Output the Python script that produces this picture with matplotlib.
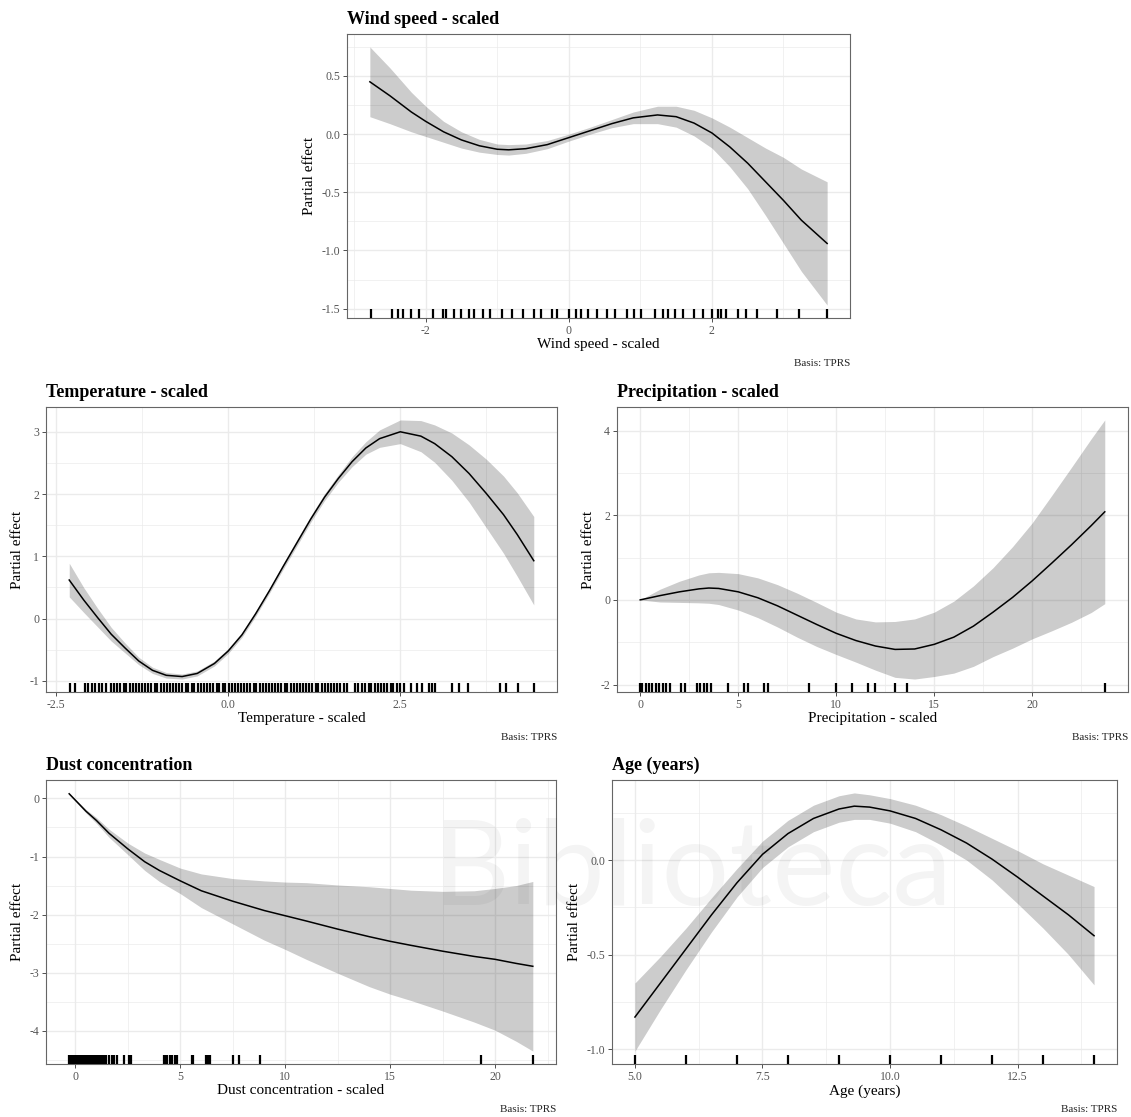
import matplotlib
matplotlib.use('Agg')
import matplotlib.pyplot as plt
from matplotlib.ticker import FixedLocator, MultipleLocator
import numpy as np

plt.rcParams['font.family'] = ['Liberation Serif', 'DejaVu Serif']
plt.rcParams['axes.unicode_minus'] = False

W, H = 1131, 1117

# --- wind speed (scaled) ---
wind_x = [-2.78, -2.5, -2.2, -2.0, -1.75, -1.5, -1.25, -1.0, -0.84, -0.6, -0.3, 0.0,
          0.3, 0.6, 0.9, 1.24, 1.5, 1.75, 2.0, 2.25, 2.5, 2.75, 3.0, 3.25, 3.61]
wind_fit = [0.45, 0.33, 0.19, 0.11, 0.02, -0.05, -0.10, -0.13, -0.135, -0.125, -0.09, -0.03,
            0.03, 0.09, 0.14, 0.165, 0.15, 0.095, 0.01, -0.11, -0.25, -0.41, -0.57, -0.74, -0.94]
wind_ci = [0.30, 0.24, 0.17, 0.13, 0.09, 0.07, 0.055, 0.045, 0.045, 0.04, 0.035, 0.03,
           0.03, 0.035, 0.05, 0.075, 0.09, 0.11, 0.13, 0.17, 0.22, 0.29, 0.37, 0.44, 0.53]
wind_rug = [-2.77, -2.47, -2.39, -2.31, -2.21, -2.09, -1.90, -1.76, -1.71, -1.60, -1.50,
            -1.40, -1.32, -1.20, -1.10, -0.94, -0.79, -0.64, -0.49, -0.39, -0.23, -0.16,
            0.0, 0.10, 0.17, 0.27, 0.40, 0.53, 0.65, 0.81, 0.91, 1.01, 1.21, 1.31, 1.39,
            1.49, 1.59, 1.75, 1.87, 2.0, 2.08, 2.13, 2.20, 2.36, 2.48, 2.63, 2.91, 3.22, 3.61]

# --- temperature (scaled) ---
temp_x = [-2.31, -2.1, -1.9, -1.7, -1.5, -1.3, -1.1, -0.9, -0.67, -0.45, -0.2, 0.0, 0.2,
          0.4, 0.6, 0.8, 1.0, 1.2, 1.4, 1.6, 1.8, 2.0, 2.2, 2.5, 2.8, 3.0, 3.25, 3.5,
          3.75, 4.0, 4.2, 4.44]
temp_fit = [0.62, 0.30, 0.02, -0.25, -0.47, -0.68, -0.83, -0.91, -0.93, -0.88, -0.72, -0.52,
            -0.26, 0.08, 0.45, 0.84, 1.22, 1.60, 1.95, 2.25, 2.52, 2.74, 2.89, 3.00, 2.93,
            2.81, 2.60, 2.33, 2.01, 1.67, 1.35, 0.93]
temp_ci = [0.27, 0.20, 0.15, 0.11, 0.08, 0.06, 0.05, 0.045, 0.04, 0.04, 0.04, 0.04, 0.04,
           0.04, 0.04, 0.045, 0.05, 0.05, 0.055, 0.06, 0.08, 0.10, 0.14, 0.19, 0.25, 0.30,
           0.38, 0.46, 0.55, 0.62, 0.67, 0.71]
temp_rug = [-2.30, -2.23,
            -2.08, -2.03, -1.98, -1.93, -1.88, -1.83, -1.78,
            -1.70, -1.66, -1.61, -1.57, -1.52, -1.48, -1.43, -1.39, -1.34, -1.30, -1.25,
            -1.21, -1.16, -1.12, -1.07, -1.03, -0.98, -0.94, -0.89, -0.85, -0.80, -0.76,
            -0.71, -0.67, -0.62, -0.58, -0.53, -0.49, -0.44, -0.40, -0.35, -0.31, -0.26,
            -0.22, -0.17, -0.13, -0.08, -0.04, 0.01, 0.05, 0.10, 0.14, 0.19, 0.23, 0.28,
            0.32, 0.37, 0.41, 0.46, 0.50, 0.55, 0.59, 0.64, 0.68, 0.73, 0.77, 0.82, 0.86,
            0.91, 0.95, 1.00, 1.04, 1.09, 1.13, 1.18, 1.22, 1.27, 1.31, 1.36, 1.40, 1.45,
            1.49, 1.54, 1.58, 1.63, 1.68, 1.73,
            1.84, 1.89, 1.94,
            1.99, 2.04, 2.08, 2.13, 2.17, 2.22, 2.27, 2.31, 2.36, 2.40, 2.45, 2.50, 2.55,
            2.65, 2.75, 2.81, 2.92, 2.96, 3.00, 3.25, 3.35, 3.48, 3.95, 4.03, 4.21, 4.44]

# --- precipitation (scaled) ---
prec_x = [0, 1, 2, 3, 3.5, 4, 5, 6, 7, 8, 9, 10, 11, 12, 13, 14, 15, 16, 17, 18, 19,
          20, 21, 22, 23, 23.7]
prec_fit = [0.0, 0.10, 0.19, 0.26, 0.28, 0.27, 0.19, 0.05, -0.14, -0.36, -0.58, -0.79,
            -0.96, -1.09, -1.17, -1.16, -1.05, -0.88, -0.62, -0.29, 0.06, 0.45, 0.87,
            1.30, 1.75, 2.08]
prec_ci = [0.0, 0.15, 0.25, 0.33, 0.36, 0.38, 0.43, 0.47, 0.50, 0.52, 0.52, 0.50, 0.51,
           0.57, 0.66, 0.71, 0.76, 0.85, 0.95, 1.05, 1.20, 1.37, 1.60, 1.83, 2.05, 2.17]
prec_rug = [0.0, 0.1, 0.3, 0.45, 0.6, 0.8, 0.95, 1.15, 1.3, 1.5, 2.1, 2.3, 2.9, 3.05,
            3.25, 3.4, 3.6, 4.5, 5.3, 5.5, 6.3, 6.5, 8.6, 10.0, 10.8, 11.6, 12.0, 13.0,
            13.6, 23.7]

# --- dust concentration (scaled) ---
dust_x = [-0.3, 0.5, 1.0, 1.6, 2.5, 3.3, 4.0, 5.0, 6.0, 7.5, 9.0, 10.0, 11.0, 12.5,
          14.0, 15.0, 16.0, 17.5, 19.0, 20.0, 21.0, 21.8]
dust_fit = [0.08, -0.22, -0.38, -0.60, -0.87, -1.09, -1.24, -1.42, -1.59, -1.77, -1.93,
            -2.02, -2.11, -2.25, -2.38, -2.46, -2.53, -2.63, -2.72, -2.77, -2.84, -2.89]
dust_ci = [0.015, 0.03, 0.05, 0.07, 0.10, 0.15, 0.19, 0.22, 0.29, 0.39, 0.51, 0.58,
           0.66, 0.76, 0.86, 0.91, 0.95, 1.03, 1.13, 1.22, 1.34, 1.46]
dust_rug = [-0.30, -0.25, -0.21, -0.16, -0.12, -0.07, -0.03, 0.02, 0.06, 0.11, 0.15,
            0.20, 0.24, 0.29, 0.33, 0.38, 0.42, 0.47, 0.51, 0.56, 0.60, 0.65, 0.69, 0.74,
            0.78, 0.83, 0.87, 0.92, 0.96, 1.01, 1.05, 1.10, 1.14, 1.19, 1.23, 1.28, 1.32,
            1.37, 1.41, 1.46,
            1.6, 1.72, 1.85, 2.0, 2.3, 2.55, 2.65, 4.2, 4.28, 4.36, 4.5, 4.62, 4.75,
            4.85, 5.55, 5.62, 6.2, 6.28, 6.36, 6.42, 7.5, 7.8, 8.8, 19.35, 21.8]

# --- age (years) ---
age_x = [5, 5.5, 6, 6.5, 7, 7.5, 8, 8.5, 9, 9.3, 9.6, 10, 10.5, 11, 11.5, 12, 12.5,
         13, 13.5, 14]
age_fit = [-0.83, -0.65, -0.47, -0.29, -0.12, 0.03, 0.14, 0.22, 0.27, 0.285, 0.28, 0.26,
           0.22, 0.16, 0.09, 0.005, -0.09, -0.19, -0.29, -0.40]
age_ci = [0.18, 0.14, 0.11, 0.09, 0.075, 0.07, 0.07, 0.07, 0.07, 0.07, 0.065, 0.065,
          0.07, 0.08, 0.09, 0.11, 0.14, 0.17, 0.21, 0.26]
age_rug = [5, 6, 7, 8, 9, 10, 11, 12, 13, 14]


def rect_px(left, top, right, bottom):
    return [left / W, 1 - bottom / H, (right - left) / W, (bottom - top) / H]


def smooth_panel(ax, x, fit, ci, rug, name, xticks, xlabels, yticks, ylabels,
                 xminor, yminor):
    x = np.asarray(x)
    fit = np.asarray(fit)
    ci = np.asarray(ci)
    lo, hi = fit - ci, fit + ci

    # ggplot-style 5% expansion of the data range
    xmin, xmax = min(x.min(), min(rug)), max(x.max(), max(rug))
    dx = (xmax - xmin) * 0.05
    ymin, ymax = lo.min(), hi.max()
    dy = (ymax - ymin) * 0.05
    ax.set_xlim(xmin - dx, xmax + dx)
    ax.set_ylim(ymin - dy, ymax + dy)

    ax.fill_between(x, lo, hi, color='black', alpha=0.2, lw=0, zorder=2)
    ax.plot(x, fit, color='black', lw=1.1, zorder=3, solid_joinstyle='round')
    ax.vlines(rug, 0, 0.03, transform=ax.get_xaxis_transform(),
              color='black', lw=1.6, zorder=4)

    ax.xaxis.set_major_locator(FixedLocator(xticks))
    ax.set_xticklabels(xlabels)
    ax.yaxis.set_major_locator(FixedLocator(yticks))
    ax.set_yticklabels(ylabels)
    ax.xaxis.set_minor_locator(MultipleLocator(xminor))
    ax.yaxis.set_minor_locator(MultipleLocator(yminor))
    ax.grid(which='major', color='#EBEBEB', lw=1.0, zorder=0)
    ax.grid(which='minor', color='#EBEBEB', lw=0.5, zorder=0)
    ax.set_axisbelow(True)

    ax.tick_params(which='major', length=3, width=0.6, color='#333333',
                   labelsize=8.5, labelcolor='#555555', pad=2)
    ax.tick_params(which='minor', length=0)
    for sp in ax.spines.values():
        sp.set_color('#666666')
        sp.set_linewidth(0.8)

    ax.set_title(name, loc='left', fontsize=13, fontweight='bold', pad=7)
    ax.set_xlabel(name, fontsize=11, labelpad=1)
    ax.set_ylabel('Partial effect', fontsize=11, labelpad=4)
    ax.annotate('Basis: TPRS', xy=(1, 0), xycoords='axes fraction',
                xytext=(0, -33), textcoords='offset points',
                ha='right', va='center', fontsize=8, color='#222222')


fig = plt.figure(figsize=(W / 100, H / 100), dpi=100)

ax1 = fig.add_axes(rect_px(347, 34, 850, 318))
smooth_panel(ax1, wind_x, wind_fit, wind_ci, wind_rug, 'Wind speed - scaled',
             [-2, 0, 2], ['-2', '0', '2'],
             [-1.5, -1.0, -0.5, 0.0, 0.5], ['-1.5', '-1.0', '-0.5', '0.0', '0.5'],
             1.0, 0.25)

ax2 = fig.add_axes(rect_px(46, 407, 557, 692))
smooth_panel(ax2, temp_x, temp_fit, temp_ci, temp_rug, 'Temperature - scaled',
             [-2.5, 0.0, 2.5], ['-2.5', '0.0', '2.5'],
             [-1, 0, 1, 2, 3], ['-1', '0', '1', '2', '3'],
             1.25, 0.5)

ax3 = fig.add_axes(rect_px(617, 407, 1128, 692))
smooth_panel(ax3, prec_x, prec_fit, prec_ci, prec_rug, 'Precipitation - scaled',
             [0, 5, 10, 15, 20], ['0', '5', '10', '15', '20'],
             [-2, 0, 2, 4], ['-2', '0', '2', '4'],
             2.5, 1.0)

ax4 = fig.add_axes(rect_px(46, 780, 556, 1064))
smooth_panel(ax4, dust_x, dust_fit, dust_ci, dust_rug, 'Dust concentration',
             [0, 5, 10, 15, 20], ['0', '5', '10', '15', '20'],
             [-4, -3, -2, -1, 0], ['-4', '-3', '-2', '-1', '0'],
             2.5, 0.5)
ax4.set_xlabel('Dust concentration - scaled', fontsize=11, labelpad=1)

ax5 = fig.add_axes(rect_px(612, 780, 1117, 1064))
smooth_panel(ax5, age_x, age_fit, age_ci, age_rug, 'Age (years)',
             [5.0, 7.5, 10.0, 12.5], ['5.0', '7.5', '10.0', '12.5'],
             [-1.0, -0.5, 0.0], ['-1.0', '-0.5', '0.0'],
             1.25, 0.25)

# faint library stamp across the lower panels
fig.text(692 / W, 1 - 905 / H, 'Biblioteca', fontsize=86, family='Lato',
         color='black', alpha=0.045, ha='center', va='baseline', zorder=10)

fig.savefig('out.png', dpi=100)
